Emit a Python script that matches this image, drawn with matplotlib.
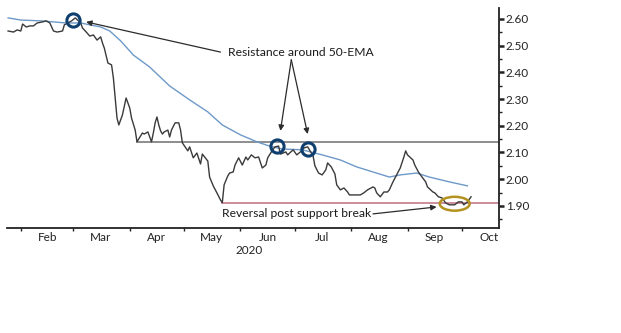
import matplotlib
matplotlib.use('Agg')
import matplotlib.pyplot as plt
import matplotlib.dates as mdates
import matplotlib.transforms as mtransforms
from matplotlib.patches import Ellipse
from matplotlib.ticker import MultipleLocator, FormatStrFormatter
import pandas as pd

plt.rcParams['font.family'] = ['Lato', 'DejaVu Sans']

# ==========================================
# Datos
# ==========================================

price_dates = [
    '2020-01-25', '2020-01-28', '2020-01-30', '2020-02-01', '2020-02-02', '2020-02-04',
    '2020-02-06', '2020-02-08', '2020-02-10', '2020-02-13', '2020-02-15', '2020-02-17',
    '2020-02-19', '2020-02-21', '2020-02-24', '2020-02-25', '2020-02-27', '2020-02-29',
    '2020-03-02', '2020-03-05', '2020-03-06', '2020-03-07', '2020-03-10', '2020-03-12',
    '2020-03-14', '2020-03-16', '2020-03-17', '2020-03-18', '2020-03-20', '2020-03-22',
    '2020-03-23', '2020-03-24', '2020-03-25', '2020-03-26', '2020-03-28', '2020-03-30',
    '2020-04-01', '2020-04-02', '2020-04-04', '2020-04-05', '2020-04-07', '2020-04-08',
    '2020-04-09', '2020-04-11', '2020-04-12', '2020-04-13', '2020-04-14', '2020-04-15',
    '2020-04-16', '2020-04-17', '2020-04-18', '2020-04-19', '2020-04-20', '2020-04-22',
    '2020-04-23', '2020-04-24', '2020-04-26', '2020-04-28', '2020-04-29', '2020-04-30',
    '2020-05-03', '2020-05-04', '2020-05-06', '2020-05-08', '2020-05-10', '2020-05-11',
    '2020-05-14', '2020-05-15', '2020-05-17', '2020-05-19', '2020-05-21', '2020-05-22',
    '2020-05-23', '2020-05-25', '2020-05-26', '2020-05-28', '2020-05-29', '2020-05-31',
    '2020-06-02', '2020-06-04', '2020-06-05', '2020-06-07', '2020-06-09', '2020-06-11',
    '2020-06-13', '2020-06-15', '2020-06-16', '2020-06-18', '2020-06-20', '2020-06-22',
    '2020-06-23', '2020-06-26', '2020-06-27', '2020-06-30', '2020-07-02', '2020-07-04',
    '2020-07-06', '2020-07-08', '2020-07-09', '2020-07-11', '2020-07-12', '2020-07-14',
    '2020-07-16', '2020-07-18', '2020-07-19', '2020-07-21', '2020-07-23', '2020-07-24',
    '2020-07-26', '2020-07-28', '2020-07-30', '2020-07-31', '2020-08-03', '2020-08-06',
    '2020-08-08', '2020-08-10', '2020-08-13', '2020-08-14', '2020-08-15', '2020-08-17',
    '2020-08-19', '2020-08-21', '2020-08-22', '2020-08-24', '2020-08-26', '2020-08-28',
    '2020-08-30', '2020-08-31', '2020-09-01', '2020-09-04', '2020-09-05', '2020-09-07',
    '2020-09-09', '2020-09-11', '2020-09-12', '2020-09-15', '2020-09-16', '2020-09-18',
    '2020-09-20', '2020-09-22', '2020-09-24', '2020-09-27', '2020-09-29', '2020-10-01',
    '2020-10-02', '2020-10-04', '2020-10-06',
]
price_values = [
    2.555, 2.551, 2.559, 2.555, 2.581, 2.570,
    2.574, 2.574, 2.585, 2.589, 2.593, 2.585,
    2.555, 2.551, 2.555, 2.578, 2.585, 2.593,
    2.604, 2.585, 2.566, 2.559, 2.536, 2.540,
    2.521, 2.533, 2.510, 2.491, 2.435, 2.428,
    2.379, 2.304, 2.229, 2.203, 2.241, 2.304,
    2.267, 2.229, 2.184, 2.140, 2.162, 2.173,
    2.169, 2.177, 2.158, 2.140, 2.173, 2.211,
    2.233, 2.203, 2.181, 2.169, 2.177, 2.184,
    2.158, 2.184, 2.211, 2.211, 2.184, 2.136,
    2.106, 2.121, 2.080, 2.098, 2.057, 2.094,
    2.068, 2.008, 1.975, 1.949, 1.922, 1.912,
    1.979, 2.012, 2.023, 2.027, 2.053, 2.080,
    2.053, 2.083, 2.072, 2.091, 2.080, 2.083,
    2.042, 2.053, 2.080, 2.102, 2.121, 2.124,
    2.094, 2.102, 2.091, 2.110, 2.091, 2.102,
    2.117, 2.121, 2.110, 2.087, 2.050, 2.023,
    2.016, 2.035, 2.061, 2.046, 2.020, 1.979,
    1.960, 1.967, 1.952, 1.941, 1.941, 1.941,
    1.949, 1.960, 1.971, 1.967, 1.949, 1.934,
    1.952, 1.952, 1.960, 1.990, 2.016, 2.042,
    2.083, 2.106, 2.091, 2.072, 2.053, 2.027,
    2.008, 1.990, 1.971, 1.952, 1.949, 1.934,
    1.930, 1.911, 1.904, 1.904, 1.915, 1.915,
    1.904, 1.915, 1.934,
]

ema_dates = [
    '2020-01-25', '2020-02-01', '2020-02-12', '2020-02-26', '2020-03-05', '2020-03-10',
    '2020-03-16', '2020-03-21', '2020-03-27', '2020-04-03', '2020-04-12', '2020-04-23',
    '2020-05-04', '2020-05-14', '2020-05-22', '2020-06-01', '2020-06-10', '2020-06-17',
    '2020-06-24', '2020-07-05', '2020-07-16', '2020-07-26', '2020-08-04', '2020-08-13',
    '2020-08-22', '2020-08-28', '2020-09-06', '2020-09-13', '2020-09-24', '2020-10-04',
]
ema_values = [
    2.604, 2.596, 2.593, 2.585, 2.585, 2.578,
    2.570, 2.555, 2.518, 2.465, 2.420, 2.349,
    2.297, 2.252, 2.203, 2.166, 2.140, 2.124,
    2.113, 2.110, 2.091, 2.072, 2.046, 2.027,
    2.008, 2.016, 2.023, 2.008, 1.990, 1.975,
]

support_level = 2.138
support_start = '2020-04-05'
break_level = 1.912
break_start = '2020-05-22'

circle_dates = ['2020-03-01', '2020-06-21', '2020-07-08']
circle_levels = [2.596, 2.126, 2.113]

reversal_date = '2020-09-27'
reversal_level = 1.908

month_starts = pd.date_range('2020-02-01', '2020-10-01', freq='MS')
month_labels = month_starts + pd.Timedelta(days=15)

# ==========================================
# Grafico
# ==========================================

fig = plt.figure(figsize=(6.21, 3.33), dpi=100)
ax = fig.add_axes([0.0113, 0.3168, 0.7923, 0.6583])

precio = pd.Series(price_values, index=pd.to_datetime(price_dates))
ema = pd.Series(ema_values, index=pd.to_datetime(ema_dates))

ax.plot(ema.index, ema.values, color='#6d99c9', lw=1.0, zorder=3)
ax.plot(precio.index, precio.values, color='#3a3a3a', lw=1.0, zorder=4)

xmax = pd.Timestamp('2020-10-21 10:00')
ax.plot([pd.Timestamp(support_start), xmax], [support_level, support_level],
        color='#7a7a7a', lw=1.2, zorder=2)
ax.plot([pd.Timestamp(break_start), xmax], [break_level, break_level],
        color='#c47c8a', lw=1.2, zorder=2)

ax.plot(pd.to_datetime(circle_dates), circle_levels, linestyle='none', marker='o',
        markersize=9.5, markerfacecolor='none', markeredgecolor='#0f3f6e',
        markeredgewidth=2.2, zorder=6)

elipse = Ellipse((mdates.date2num(pd.Timestamp(reversal_date)), reversal_level),
                 width=16.5, height=0.052, fill=False, edgecolor='#b3921f',
                 lw=1.8, zorder=6)
ax.add_patch(elipse)

# anotaciones
flecha = dict(arrowstyle='-|>', color='#2b2b2b', lw=0.9, mutation_scale=8,
              shrinkA=0, shrinkB=0)
ax.text(pd.Timestamp('2020-05-25'), 2.473, 'Resistance around 50-EMA',
        ha='left', va='center', fontsize=8.7, color='#1a1a1a')
ax.annotate('', xy=(pd.Timestamp('2020-03-08'), 2.589),
            xytext=(pd.Timestamp('2020-05-21'), 2.476), arrowprops=flecha)
ax.annotate('', xy=(pd.Timestamp('2020-06-23'), 2.181),
            xytext=(pd.Timestamp('2020-06-29'), 2.447), arrowprops=flecha)
ax.annotate('', xy=(pd.Timestamp('2020-07-08'), 2.169),
            xytext=(pd.Timestamp('2020-06-29'), 2.447), arrowprops=flecha)

ax.text(pd.Timestamp('2020-05-22'), 1.870, 'Reversal post support break',
        ha='left', va='center', fontsize=8.7, color='#1a1a1a')
ax.annotate('', xy=(pd.Timestamp('2020-09-17'), 1.896),
            xytext=(pd.Timestamp('2020-08-13'), 1.870), arrowprops=flecha)

# ejes
ax.set_xlim(pd.Timestamp('2020-01-24 10:00'), xmax)
ax.set_ylim(1.819, 2.64)

for lado in ['top', 'left']:
    ax.spines[lado].set_visible(False)
ax.spines['right'].set_linewidth(1.3)
ax.spines['bottom'].set_linewidth(1.3)
ax.spines['right'].set_color('#222222')
ax.spines['bottom'].set_color('#222222')

ax.yaxis.tick_right()
ax.yaxis.set_major_locator(MultipleLocator(0.1))
ax.yaxis.set_minor_locator(MultipleLocator(0.05))
ax.yaxis.set_major_formatter(FormatStrFormatter('%.2f'))
ax.tick_params(axis='y', which='major', direction='out', length=3.5, width=1.8,
               pad=1.5, labelsize=8.5, colors='#222222')
ax.tick_params(axis='y', which='minor', direction='out', length=2, width=1.0,
               colors='#222222')

ax.set_xticks(month_starts)
ax.set_xticklabels([])
ax.set_xticks(month_labels, minor=True)
ax.set_xticklabels([d.strftime('%b') for d in month_labels], minor=True)
ax.tick_params(axis='x', which='major', direction='out', length=2.5, width=1.0,
               colors='#222222')
ax.tick_params(axis='x', which='minor', length=0, pad=3, labelsize=8.5,
               labelcolor='#222222')

trans = mtransforms.blended_transform_factory(ax.transData, ax.transAxes)
ax.text(pd.Timestamp('2020-06-06'), -0.103, '2020', transform=trans,
        ha='center', va='center', fontsize=8.5, color='#222222')

plt.savefig('out.png', dpi=100)
